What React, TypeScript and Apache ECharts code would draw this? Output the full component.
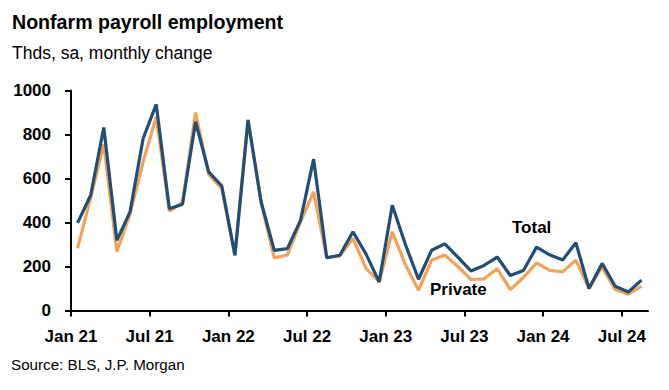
import React, { useEffect, useRef } from "react";
import * as echarts from "echarts";

// Monthly change, thousands, Jan 2021 .. Aug 2024
const months: string[] = [
  "Jan 21","Feb 21","Mar 21","Apr 21","May 21","Jun 21","Jul 21","Aug 21","Sep 21","Oct 21","Nov 21","Dec 21",
  "Jan 22","Feb 22","Mar 22","Apr 22","May 22","Jun 22","Jul 22","Aug 22","Sep 22","Oct 22","Nov 22","Dec 22",
  "Jan 23","Feb 23","Mar 23","Apr 23","May 23","Jun 23","Jul 23","Aug 23","Sep 23","Oct 23","Nov 23","Dec 23",
  "Jan 24","Feb 24","Mar 24","Apr 24","May 24","Jun 24","Jul 24","Aug 24",
];

const totalValues: number[] = [
  398, 524, 832, 319, 448, 782, 937, 462, 483, 858, 630, 566,
  251, 866, 493, 273, 281, 410, 688, 240, 251, 358, 256, 130,
  478, 300, 142, 274, 303, 243, 180, 205, 243, 159, 182, 288,
  253, 230, 308, 100, 214, 110, 84, 138,
];

const privateValues: number[] = [
  282, 512, 755, 267, 438, 676, 881, 452, 490, 900, 618, 553,
  251, 866, 488, 239, 252, 402, 539, 240, 247, 328, 191, 130,
  358, 208, 92, 229, 252, 200, 141, 144, 190, 95, 150, 216,
  182, 176, 229, 100, 198, 95, 74, 111,
];

const xTickLabels: string[] = ["Jan 21", "Jul 21", "Jan 22", "Jul 22", "Jan 23", "Jul 23", "Jan 24", "Jul 24"];
const yTicks: number[] = [0, 200, 400, 600, 800, 1000];

const FONT = "'Liberation Sans', Arial, Helvetica, sans-serif";
const BLUE = "#1f4e79";
const ORANGE = "#f4a259";

export default function App() {
  const ref = useRef<HTMLDivElement>(null);

  useEffect(() => {
    if (!ref.current) return;
    const chart = echarts.init(ref.current, undefined, { renderer: "svg" });

    const tickPositions = xTickLabels.map((lbl) => months.indexOf(lbl));
    const toPairs = (vals: number[]) => vals.map((v, i) => [i + 0.5, v]);

    chart.setOption({
      animation: false,
      backgroundColor: "#ffffff",
      grid: { left: 71, right: 21, top: 90.5, bottom: 79.5, containLabel: false },
      xAxis: {
        type: "value",
        min: 0,
        max: months.length,
        splitLine: { show: false },
        axisLine: { show: true, onZero: false, lineStyle: { color: "#000", width: 2 } },
        axisTick: {
          show: true,
          length: 6,
          inside: false,
          customValues: tickPositions,
          lineStyle: { color: "#000", width: 2 },
        },
        axisLabel: {
          customValues: tickPositions,
          margin: 17,
          color: "#000",
          fontFamily: FONT,
          fontWeight: "bold",
          fontSize: 17,
          formatter: (v: number) => months[Math.round(v)] ?? "",
        },
      },
      yAxis: {
        type: "value",
        min: yTicks[0],
        max: yTicks[yTicks.length - 1],
        interval: 200,
        splitLine: { show: false },
        axisLine: { show: true, lineStyle: { color: "#000", width: 2 } },
        axisTick: { show: true, length: 6, inside: false, lineStyle: { color: "#000", width: 2 } },
        axisLabel: {
          margin: 20,
          color: "#000",
          fontFamily: FONT,
          fontWeight: "bold",
          fontSize: 17,
          formatter: (v: number) => String(v),
        },
      },
      series: [
        {
          name: "Private",
          type: "line",
          data: toPairs(privateValues),
          showSymbol: false,
          symbol: "none",
          lineStyle: { color: ORANGE, width: 3.2 },
          z: 2,
        },
        {
          name: "Total",
          type: "line",
          data: toPairs(totalValues),
          showSymbol: false,
          symbol: "none",
          lineStyle: { color: BLUE, width: 3.2 },
          z: 3,
        },
      ],
      graphic: [
        {
          type: "text",
          left: 12,
          top: 12,
          style: { text: "Nonfarm payroll employment", font: `bold 19.6px ${FONT}`, fill: "#000" },
        },
        {
          type: "text",
          left: 12,
          top: 44,
          style: { text: "Thds, sa, monthly change", font: `17.5px ${FONT}`, fill: "#000" },
        },
        {
          type: "text",
          left: 512,
          top: 219,
          style: { text: "Total", font: `bold 17px ${FONT}`, fill: "#000" },
        },
        {
          type: "text",
          left: 430,
          top: 281,
          style: { text: "Private", font: `bold 17px ${FONT}`, fill: "#000" },
        },
        {
          type: "text",
          left: 11,
          top: 357,
          style: { text: "Source: BLS, J.P. Morgan", font: `15.2px ${FONT}`, fill: "#000" },
        },
      ],
    });

    return () => chart.dispose();
  }, []);

  return (
    <div
      ref={ref}
      style={{ position: "fixed", left: 0, top: 0, width: 669, height: 390, background: "#fff" }}
    />
  );
}
